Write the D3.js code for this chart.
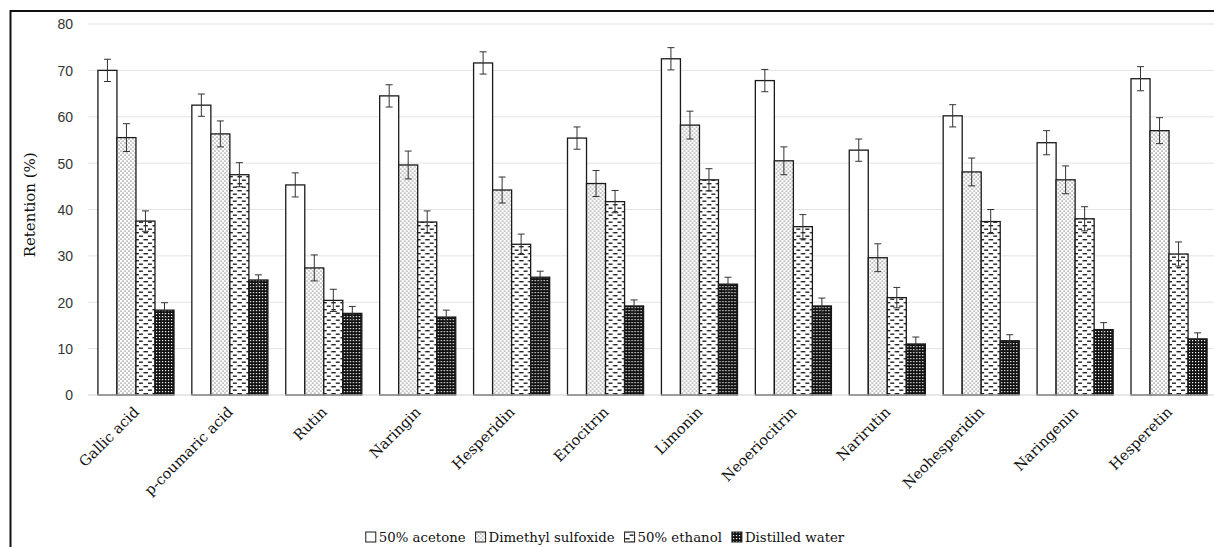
<!DOCTYPE html>
<html>
<head>
<meta charset="utf-8">
<script src="https://cdn.jsdelivr.net/npm/d3@7"></script>
<style>
  html, body { margin: 0; padding: 0; background: #fff; }
  svg { display: block; }
</style>
</head>
<body>
<svg id="chart" width="1214" height="547"></svg>
<script>
// Retention of phenolic compounds and limonoids by extraction solvent
const categories = ["Gallic acid", "p-coumaric acid", "Rutin", "Naringin", "Hesperidin", "Eriocitrin",
  "Limonin", "Neoeriocitrin", "Narirutin", "Neohesperidin", "Naringenin", "Hesperetin"];
const series = ["50% acetone", "Dimethyl sulfoxide", "50% ethanol", "Distilled water"];

const acetone = [70.0, 62.5, 45.3, 64.5, 71.6, 55.4, 72.5, 67.8, 52.8, 60.2, 54.4, 68.2];
const dmso    = [55.5, 56.3, 27.4, 49.6, 44.2, 45.6, 58.2, 50.5, 29.6, 48.1, 46.4, 57.0];
const ethanol = [37.5, 47.5, 20.4, 37.3, 32.5, 41.7, 46.4, 36.3, 21.0, 37.4, 38.0, 30.4];
const water   = [18.3, 24.8, 17.6, 16.8, 25.4, 19.2, 23.9, 19.2, 11.0, 11.7, 14.1, 12.1];

const acetoneErr = [2.4, 2.4, 2.6, 2.4, 2.4, 2.4, 2.4, 2.4, 2.4, 2.4, 2.6, 2.6];
const dmsoErr    = [3.0, 2.8, 2.8, 3.0, 2.8, 2.8, 3.0, 3.0, 3.0, 3.0, 3.0, 2.8];
const ethanolErr = [2.2, 2.6, 2.4, 2.4, 2.2, 2.4, 2.4, 2.6, 2.2, 2.6, 2.6, 2.6];
const waterErr   = [1.6, 1.1, 1.5, 1.5, 1.3, 1.3, 1.5, 1.7, 1.5, 1.3, 1.5, 1.3];

const yTicks = [0, 10, 20, 30, 40, 50, 60, 70, 80];

const values = [acetone, dmso, ethanol, water];
const errors = [acetoneErr, dmsoErr, ethanolErr, waterErr];
const fills = ["#ffffff", "url(#pat-dots)", "url(#pat-dash)", "url(#pat-grid)"];

const svg = d3.select("#chart");
const W = 1214, H = 547;
const serif = "'DejaVu Serif', serif";

// Patterns for the four solvents
const defs = svg.append("defs");
const pDots = defs.append("pattern").attr("id", "pat-dots").attr("patternUnits", "userSpaceOnUse")
  .attr("width", 4).attr("height", 4);
pDots.append("rect").attr("width", 4).attr("height", 4).attr("fill", "#fff");
pDots.append("rect").attr("x", 0.5).attr("y", 0.5).attr("width", 1.1).attr("height", 1.1).attr("fill", "#555");
pDots.append("rect").attr("x", 2.5).attr("y", 2.5).attr("width", 1.1).attr("height", 1.1).attr("fill", "#555");

const pDash = defs.append("pattern").attr("id", "pat-dash").attr("patternUnits", "userSpaceOnUse")
  .attr("width", 9).attr("height", 7);
pDash.append("rect").attr("width", 9).attr("height", 7).attr("fill", "#fff");
pDash.append("rect").attr("x", 0.5).attr("y", 1).attr("width", 4.5).attr("height", 1.4).attr("fill", "#222");
pDash.append("rect").attr("x", 5).attr("y", 4.5).attr("width", 4.5).attr("height", 1.4).attr("fill", "#222");

const pGrid = defs.append("pattern").attr("id", "pat-grid").attr("patternUnits", "userSpaceOnUse")
  .attr("width", 3).attr("height", 3);
pGrid.append("rect").attr("width", 3).attr("height", 3).attr("fill", "#111");
pGrid.append("rect").attr("x", 1).attr("y", 1).attr("width", 1.2).attr("height", 1.2).attr("fill", "#fff");

svg.append("rect").attr("width", W).attr("height", H).attr("fill", "#fff");

// Scales
const x0 = d3.scaleBand().domain(categories).range([89, 1216]).paddingInner(0.19).paddingOuter(0.095);
const x1 = d3.scaleBand().domain(series).range([0, x0.bandwidth()]);
const y = d3.scaleLinear().domain([0, 80]).range([395, 24]);

// Gridlines
svg.append("g").selectAll("line").data(yTicks.filter(d => d > 0)).join("line")
  .attr("x1", 88).attr("x2", W).attr("y1", d => y(d)).attr("y2", d => y(d))
  .attr("stroke", "#e3e3e3").attr("stroke-width", 1);

// Y axis labels
const yAxis = d3.axisLeft(y).tickValues(yTicks).tickSize(0).tickPadding(0);
const gy = svg.append("g").attr("transform", "translate(73,0)").call(yAxis);
gy.select(".domain").remove();
gy.selectAll("text").attr("font-family", "'Liberation Sans', Arial, sans-serif")
  .attr("font-size", 14).attr("fill", "#333").attr("dy", "0.35em");

// Bars
const groups = svg.append("g").selectAll("g").data(categories).join("g")
  .attr("transform", d => `translate(${x0(d)},0)`);

groups.each(function(cat, ci) {
  const g = d3.select(this);
  series.forEach((s, si) => {
    const v = values[si][ci];
    g.append("rect")
      .attr("x", x1(s)).attr("y", y(v))
      .attr("width", x1.bandwidth()).attr("height", y(0) - y(v))
      .attr("fill", fills[si]).attr("stroke", "#1a1a1a").attr("stroke-width", 1.3);
  });
});

// Baseline
svg.append("line").attr("x1", 88).attr("x2", W).attr("y1", y(0)).attr("y2", y(0))
  .attr("stroke", "#cfcfcf").attr("stroke-width", 1.2);

// Error bars
groups.each(function(cat, ci) {
  const g = d3.select(this);
  series.forEach((s, si) => {
    const v = values[si][ci], e = errors[si][ci];
    const cx = x1(s) + x1.bandwidth() / 2;
    const eg = g.append("g").attr("stroke", "#333").attr("stroke-width", 1);
    eg.append("line").attr("x1", cx).attr("x2", cx).attr("y1", y(v + e)).attr("y2", y(v - e));
    eg.append("line").attr("x1", cx - 3.5).attr("x2", cx + 3.5).attr("y1", y(v + e)).attr("y2", y(v + e));
    eg.append("line").attr("x1", cx - 3.5).attr("x2", cx + 3.5).attr("y1", y(v - e)).attr("y2", y(v - e));
  });
});

// Category labels (rotated)
svg.append("g").selectAll("text").data(categories).join("text")
  .attr("transform", d => `translate(${x0(d) + x0.bandwidth() / 2 + 4},${413}) rotate(-45)`)
  .attr("text-anchor", "end")
  .attr("font-family", serif).attr("font-size", 14.5).attr("fill", "#111")
  .text(d => d);

// Y axis title
svg.append("text")
  .attr("transform", `translate(35,${y(41)}) rotate(-90)`)
  .attr("text-anchor", "middle")
  .attr("font-family", serif).attr("font-size", 15).attr("fill", "#111")
  .text("Retention (%)");

// Legend: swatch + label, laid out in one centred row
const legend = svg.append("g");
const items = legend.selectAll("g").data(series).join("g");
items.append("rect").attr("x", 0).attr("y", -5).attr("width", 10).attr("height", 10)
  .attr("fill", (d, i) => fills[i]).attr("stroke", "#1a1a1a").attr("stroke-width", 1);
items.append("text").attr("x", 13).attr("dy", "0.35em")
  .attr("font-family", serif).attr("font-size", 13.3).attr("fill", "#111")
  .text(d => d);
let cursor = 0;
items.each(function() {
  const w = d3.select(this).select("text").node().getComputedTextLength();
  d3.select(this).attr("transform", `translate(${cursor},0)`);
  cursor += 13 + w + 10;
});
const legendWidth = cursor - 10;
legend.attr("transform", `translate(${605 - legendWidth / 2},537)`);

// Frame
svg.append("line").attr("x1", 10).attr("x2", W).attr("y1", 11).attr("y2", 11)
  .attr("stroke", "#111").attr("stroke-width", 2);
svg.append("line").attr("x1", 10.5).attr("x2", 10.5).attr("y1", 10).attr("y2", H)
  .attr("stroke", "#111").attr("stroke-width", 2);
</script>
</body>
</html>
